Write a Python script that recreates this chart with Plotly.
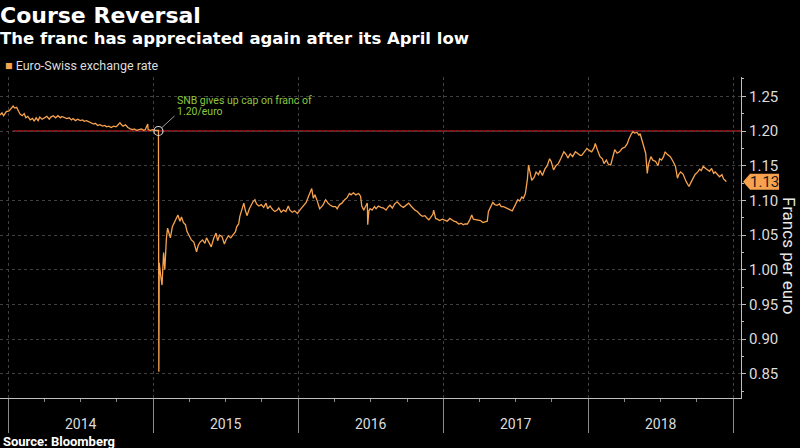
import plotly.graph_objects as go

# ---------------- data ----------------
dates = [
 "2013-12-11","2013-12-16","2013-12-20","2013-12-27",
 "2014-01-03","2014-01-08","2014-01-13","2014-01-17","2014-01-22","2014-01-27","2014-01-31",
 "2014-02-05","2014-02-10","2014-02-14","2014-02-19","2014-02-25",
 "2014-03-03","2014-03-07","2014-03-12","2014-03-17","2014-03-21","2014-03-27",
 "2014-04-02","2014-04-08","2014-04-14","2014-04-18","2014-04-24","2014-04-30",
 "2014-05-06","2014-05-12","2014-05-16","2014-05-22","2014-05-28",
 "2014-06-03","2014-06-09","2014-06-13","2014-06-19","2014-06-25",
 "2014-07-01","2014-07-07","2014-07-11","2014-07-17","2014-07-23","2014-07-29",
 "2014-08-04","2014-08-08","2014-08-14","2014-08-20","2014-08-26",
 "2014-09-01","2014-09-05","2014-09-11","2014-09-17","2014-09-23","2014-09-29",
 "2014-10-03","2014-10-09","2014-10-13","2014-10-17","2014-10-23","2014-10-29",
 "2014-11-04","2014-11-10","2014-11-14","2014-11-20","2014-11-26",
 "2014-12-02","2014-12-08","2014-12-12","2014-12-18","2014-12-19","2014-12-24","2014-12-31",
 "2015-01-06","2015-01-12","2015-01-14","2015-01-15","2015-01-16","2015-01-20","2015-01-23","2015-01-27","2015-01-30",
 "2015-02-03","2015-02-06","2015-02-10","2015-02-13","2015-02-18","2015-02-23","2015-02-27",
 "2015-03-04","2015-03-09","2015-03-13","2015-03-18","2015-03-23","2015-03-27",
 "2015-04-02","2015-04-07","2015-04-13","2015-04-17","2015-04-20","2015-04-24","2015-04-29",
 "2015-05-05","2015-05-11","2015-05-15","2015-05-20","2015-05-27",
 "2015-06-02","2015-06-08","2015-06-12","2015-06-17","2015-06-23","2015-06-29",
 "2015-07-03","2015-07-09","2015-07-15","2015-07-21","2015-07-27","2015-07-30",
 "2015-08-04","2015-08-07","2015-08-12","2015-08-17","2015-08-21","2015-08-25","2015-08-31",
 "2015-09-04","2015-09-09","2015-09-14","2015-09-18","2015-09-24","2015-09-30",
 "2015-10-06","2015-10-12","2015-10-16","2015-10-22","2015-10-28",
 "2015-11-03","2015-11-09","2015-11-13","2015-11-19","2015-11-25",
 "2015-12-01","2015-12-07","2015-12-11","2015-12-17","2015-12-23","2015-12-30",
 "2016-01-05","2016-01-11","2016-01-15","2016-01-21","2016-01-27",
 "2016-02-04","2016-02-08","2016-02-12","2016-02-18","2016-02-24","2016-02-29",
 "2016-03-04","2016-03-10","2016-03-16","2016-03-22","2016-03-28",
 "2016-04-04","2016-04-08","2016-04-14","2016-04-20","2016-04-27",
 "2016-05-03","2016-05-09","2016-05-13","2016-05-19","2016-05-25",
 "2016-06-01","2016-06-06","2016-06-09","2016-06-14","2016-06-20","2016-06-23","2016-06-24","2016-06-27","2016-06-30",
 "2016-07-05","2016-07-11","2016-07-15","2016-07-21","2016-07-27",
 "2016-08-03","2016-08-09","2016-08-15","2016-08-19","2016-08-25","2016-08-31",
 "2016-09-06","2016-09-12","2016-09-16","2016-09-22","2016-09-28",
 "2016-10-05","2016-10-11","2016-10-17","2016-10-21","2016-10-27",
 "2016-11-01","2016-11-04","2016-11-09","2016-11-15","2016-11-21","2016-11-25","2016-11-30",
 "2016-12-05","2016-12-07","2016-12-12","2016-12-16","2016-12-22","2016-12-29",
 "2017-01-04","2017-01-10","2017-01-17","2017-01-23","2017-01-27",
 "2017-02-02","2017-02-08","2017-02-14","2017-02-20","2017-02-24",
 "2017-03-02","2017-03-08","2017-03-13","2017-03-17","2017-03-23","2017-03-29",
 "2017-04-04","2017-04-10","2017-04-18","2017-04-21","2017-04-24","2017-04-28",
 "2017-05-05","2017-05-10","2017-05-16","2017-05-22","2017-05-26",
 "2017-06-01","2017-06-07","2017-06-13","2017-06-19","2017-06-23","2017-06-28",
 "2017-07-03","2017-07-07","2017-07-12","2017-07-17","2017-07-21","2017-07-26","2017-07-31",
 "2017-08-03","2017-08-07","2017-08-11","2017-08-17","2017-08-22","2017-08-28",
 "2017-09-01","2017-09-07","2017-09-13","2017-09-19","2017-09-25","2017-09-29",
 "2017-10-05","2017-10-11","2017-10-17","2017-10-23","2017-10-31",
 "2017-11-06","2017-11-10","2017-11-16","2017-11-22","2017-11-29",
 "2017-12-05","2017-12-11","2017-12-15","2017-12-21","2017-12-28",
 "2018-01-03","2018-01-09","2018-01-15","2018-01-18","2018-01-24","2018-01-30",
 "2018-02-05","2018-02-09","2018-02-15","2018-02-20","2018-02-26",
 "2018-03-02","2018-03-08","2018-03-14","2018-03-20","2018-03-27",
 "2018-04-03","2018-04-09","2018-04-13","2018-04-19","2018-04-23","2018-04-27",
 "2018-05-03","2018-05-08","2018-05-11","2018-05-16","2018-05-21","2018-05-25","2018-05-29",
 "2018-06-01","2018-06-07","2018-06-12","2018-06-19","2018-06-25","2018-06-29",
 "2018-07-04","2018-07-09","2018-07-13","2018-07-19","2018-07-26",
 "2018-08-02","2018-08-08","2018-08-13","2018-08-16","2018-08-21","2018-08-27",
 "2018-09-04","2018-09-07","2018-09-11","2018-09-17","2018-09-21","2018-09-26",
 "2018-10-03","2018-10-08","2018-10-12","2018-10-17","2018-10-23","2018-10-29",
 "2018-11-02","2018-11-07","2018-11-12","2018-11-16","2018-11-23","2018-11-27",
 "2018-12-03","2018-12-07","2018-12-11","2018-12-14",
]

rate = [
 1.223,1.226,1.222,1.228,
 1.229,1.232,1.236,1.233,1.234,1.228,1.224,
 1.222,1.225,1.219,1.221,1.216,
 1.218,1.214,1.219,1.215,1.220,1.217,
 1.219,1.221,1.217,1.220,1.222,1.219,
 1.222,1.219,1.221,1.220,1.218,
 1.219,1.216,1.218,1.215,1.217,
 1.215,1.216,1.214,1.215,1.213,1.212,
 1.210,1.211,1.208,1.209,1.207,
 1.208,1.206,1.207,1.205,1.207,1.206,
 1.208,1.212,1.209,1.207,1.209,1.205,
 1.203,1.202,1.203,1.201,1.202,
 1.203,1.201,1.202,1.210,1.202,1.201,1.202,
 1.201,1.201,1.201,0.853,1.010,0.990,0.978,1.025,1.000,
 1.045,1.060,1.052,1.046,1.062,1.068,1.074,
 1.079,1.070,1.076,1.068,1.065,1.055,
 1.048,1.043,1.040,1.032,1.026,1.035,1.040,
 1.043,1.038,1.046,1.040,1.033,
 1.045,1.053,1.042,1.050,1.048,1.037,
 1.043,1.049,1.046,1.050,1.055,1.062,
 1.066,1.077,1.088,1.096,1.085,1.078,1.088,
 1.093,1.098,1.101,1.095,1.092,1.094,
 1.090,1.096,1.088,1.092,1.087,
 1.084,1.086,1.089,1.083,1.086,
 1.084,1.092,1.086,1.083,1.085,1.081,
 1.086,1.090,1.093,1.097,1.106,
 1.117,1.103,1.108,1.099,1.088,1.091,
 1.094,1.101,1.096,1.093,1.091,
 1.091,1.088,1.094,1.096,1.101,
 1.104,1.110,1.108,1.111,1.108,
 1.110,1.106,1.092,1.086,1.093,1.096,1.065,1.085,1.088,
 1.086,1.091,1.088,1.092,1.090,
 1.089,1.086,1.091,1.093,1.089,1.095,
 1.098,1.094,1.092,1.090,1.093,
 1.096,1.092,1.088,1.086,1.084,
 1.080,1.079,1.077,1.078,1.074,1.072,1.076,
 1.080,1.086,1.074,1.073,1.071,1.073,
 1.072,1.070,1.074,1.071,1.070,
 1.069,1.066,1.067,1.065,1.066,
 1.066,1.072,1.079,1.073,1.072,1.071,
 1.071,1.068,1.069,1.070,1.084,1.088,
 1.097,1.094,1.093,1.095,1.091,
 1.091,1.089,1.088,1.086,1.085,1.090,
 1.096,1.101,1.099,1.105,1.103,1.110,1.130,
 1.151,1.140,1.129,1.133,1.141,1.137,
 1.143,1.136,1.145,1.150,1.160,1.156,
 1.144,1.150,1.153,1.160,1.170,
 1.166,1.161,1.167,1.163,1.170,
 1.168,1.165,1.165,1.170,1.175,
 1.172,1.170,1.176,1.182,1.172,1.163,
 1.160,1.153,1.158,1.152,1.151,
 1.160,1.173,1.168,1.170,1.175,
 1.177,1.182,1.189,1.196,1.199,1.197,
 1.198,1.194,1.196,1.186,1.177,1.168,1.139,
 1.152,1.163,1.158,1.156,1.150,1.160,
 1.158,1.163,1.170,1.166,1.163,
 1.156,1.149,1.132,1.137,1.141,1.138,
 1.127,1.124,1.120,1.127,1.132,1.137,
 1.141,1.145,1.143,1.149,1.146,1.144,
 1.142,1.146,1.139,1.141,1.136,1.134,
 1.137,1.131,1.129,1.127,
]

year_starts = ["2014-01-01","2015-01-01","2016-01-01","2017-01-01","2018-01-01","2019-01-01"]
year_mids = ["2014-07-02","2015-07-02","2016-07-02","2017-07-02","2018-07-02"]
year_labels = ["2014","2015","2016","2017","2018"]
quarter_ticks = [f"{y}-{m:02d}-01" for y in range(2014, 2019) for m in (4, 7, 10)]
y_ticks = [0.85, 0.90, 0.95, 1.00, 1.05, 1.10, 1.15, 1.20, 1.25]
y_tick_labels = ["0.85", "0.90", "0.95", "1.00", "1.05", "1.10", "1.15", "1.20", "1.25"]
y_minor = [0.825, 0.875, 0.925, 0.975, 1.025, 1.075, 1.125, 1.175, 1.225, 1.275]

cap_level = 1.20
cap_start = "2014-01-12"
cap_end = "2019-01-20"
crash_date = "2015-01-14"
x_range = ["2013-12-11", "2019-01-20"]
y_range = [0.8153, 1.2778]

ORANGE = "#f6a24e"
GRID = "#404040"
AXIS = "#bdbdbd"
TEXT = "#dcdcdc"
FONT = "Roboto, 'Open Sans', Arial, sans-serif"
HEAD = "'DejaVu Sans', Roboto, Arial, sans-serif"

fig = go.Figure()

fig.add_trace(go.Scatter(
    x=dates, y=rate, mode="lines",
    line=dict(color=ORANGE, width=1.3),
    showlegend=False, hoverinfo="skip",
))

# open circle marking the removal of the cap
fig.add_trace(go.Scatter(
    x=[crash_date], y=[cap_level], mode="markers",
    marker=dict(symbol="circle-open", size=9, color="#d0d0d0", line=dict(width=1.2)),
    showlegend=False, hoverinfo="skip",
))

shapes = [
    dict(type="line", xref="x", yref="y", x0=cap_start, x1=cap_end, y0=cap_level, y1=cap_level,
         line=dict(color="#b5121b", width=1.6), layer="below"),
    dict(type="line", xref="x", yref="y", xsizemode="pixel", ysizemode="pixel",
         xanchor=crash_date, yanchor=cap_level, x0=3, y0=3, x1=16, y1=15,
         line=dict(color="#9a9a9a", width=1)),
    dict(type="path", xref="paper", yref="y", xsizemode="pixel", ysizemode="pixel",
         xanchor=1, yanchor=rate[-1],
         path="M 2,0 L 9,8 L 38,8 L 38,-8 L 9,-8 Z",
         fillcolor=ORANGE, line=dict(width=0)),
]

annotations = [
    dict(text="<b>Course Reversal</b>", xref="paper", yref="paper", x=0, y=1,
         xanchor="left", yanchor="middle", xshift=-2, yshift=62, showarrow=False,
         font=dict(family=HEAD, size=22, color="#ffffff")),
    dict(text="<b>The franc has appreciated again after its April low</b>", xref="paper", yref="paper",
         x=0, y=1, xanchor="left", yanchor="middle", xshift=-2, yshift=39, showarrow=False,
         font=dict(family=HEAD, size=16.5, color="#ffffff")),
    dict(text=f"<span style='color:{ORANGE}'>■</span> Euro-Swiss exchange rate", xref="paper", yref="paper",
         x=0, y=1, xanchor="left", yanchor="middle", xshift=3, yshift=12, showarrow=False,
         font=dict(family=FONT, size=12.5, color=TEXT)),
    dict(text="<b>Source: Bloomberg</b>", xref="paper", yref="paper", x=0, y=0,
         xanchor="left", yanchor="middle", xshift=1, yshift=-43, showarrow=False,
         font=dict(family=FONT, size=13, color="#ffffff")),
    dict(text="SNB gives up cap on franc of", xref="x", yref="y", x=crash_date, y=cap_level,
         xanchor="left", yanchor="middle", xshift=17, yshift=31, showarrow=False,
         font=dict(family=FONT, size=10.5, color="#8dc63f")),
    dict(text="1.20/euro", xref="x", yref="y", x=crash_date, y=cap_level,
         xanchor="left", yanchor="middle", xshift=17, yshift=20, showarrow=False,
         font=dict(family=FONT, size=10.5, color="#8dc63f")),
    dict(text="Francs per euro", xref="paper", yref="paper", x=1, y=0.4455,
         xanchor="center", yanchor="middle", xshift=48, textangle=90, showarrow=False,
         font=dict(family=FONT, size=17, color="#e8e8e8")),
    dict(text="1.13", xref="paper", yref="y", x=1, y=rate[-1],
         xanchor="center", yanchor="middle", xshift=23.5, showarrow=False,
         font=dict(family=FONT, size=15, color="#1a1a1a")),
]
for d, lab in zip(year_mids, year_labels):
    annotations.append(dict(text=lab, xref="x", yref="paper", x=d, y=0,
                            xanchor="center", yanchor="middle", yshift=-26, showarrow=False,
                            font=dict(family=FONT, size=14, color=TEXT)))

fig.update_layout(
    width=800, height=448,
    margin=dict(l=0, r=59, t=77, b=50),
    paper_bgcolor="#000000", plot_bgcolor="#000000",
    showlegend=False,
    shapes=shapes, annotations=annotations,
    xaxis=dict(
        type="date", range=x_range,
        tickvals=year_starts, showticklabels=False,
        ticks="outside", ticklen=34, tickcolor="#8a8a8a", tickwidth=1,
        showgrid=True, gridcolor=GRID, griddash="dot", gridwidth=1,
        showline=True, linecolor=AXIS, linewidth=1,
        zeroline=False,
        minor=dict(tickvals=quarter_ticks, ticks="outside", ticklen=3, tickcolor="#8a8a8a", showgrid=False),
    ),
    yaxis=dict(
        side="right", range=y_range,
        tickvals=y_ticks, ticktext=y_tick_labels,
        ticks="outside", ticklen=4, tickcolor=AXIS,
        tickfont=dict(family=FONT, size=15, color=TEXT),
        showgrid=True, gridcolor=GRID, griddash="dot", gridwidth=1,
        showline=True, linecolor=AXIS, linewidth=1,
        zeroline=False,
        minor=dict(tickvals=y_minor, ticks="outside", ticklen=2, tickcolor=AXIS, showgrid=False),
    ),
)

fig.write_html(
    "out.html",
    config={"displayModeBar": False},
    post_script="document.body.style.margin='0';document.body.style.background='#000';",
)
